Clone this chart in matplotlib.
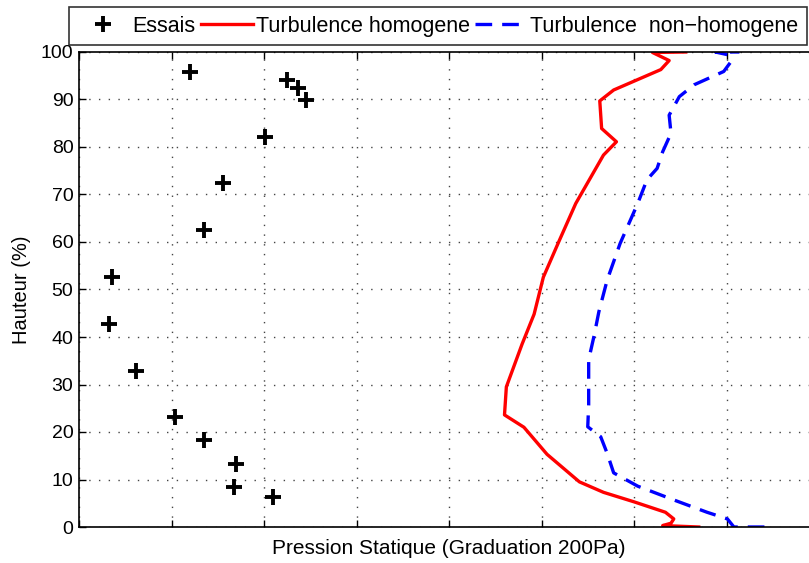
import matplotlib
matplotlib.use("Agg")
import matplotlib.pyplot as plt

plt.rcParams['font.family'] = ['Liberation Sans', 'DejaVu Sans']

# essais: pression (graduations) / hauteur (%)
essais_p = [1.20, 2.25, 2.37, 2.45, 2.01, 1.56, 1.35, 0.36, 0.325, 0.62,
            1.035, 1.35, 1.70, 1.68, 2.10]
essais_h = [95.8, 94.1, 92.5, 89.8, 82.2, 72.4, 62.5, 52.6, 42.7, 32.8,
            23.1, 18.3, 13.3, 8.4, 6.3]

# turbulence homogene
homo_p = [6.70, 6.31, 6.40, 6.43, 6.34, 6.00, 5.67, 5.41, 5.06, 4.81, 4.60,
          4.62, 4.79, 4.92, 5.02, 5.19, 5.37, 5.67, 5.81, 5.65, 5.63, 5.78,
          6.29, 6.38, 6.20, 6.56]
homo_h = [0, 0.3, 0.8, 1.7, 3.1, 5.3, 7.3, 9.5, 15.3, 21.0, 23.6,
          29.5, 38.5, 44.8, 52.6, 60.2, 68.1, 78.3, 81.1, 83.9, 89.7, 92.0,
          96.3, 98.2, 99.9, 100]

# turbulence non-homogene
nonhomo_p = [7.41, 7.08, 7.01, 6.79, 6.43, 6.04, 5.78, 5.71, 5.64, 5.50,
             5.51, 5.51, 5.57, 5.62, 5.71, 5.85, 6.04, 6.14, 6.25, 6.31,
             6.40, 6.38, 6.49, 6.65, 6.97, 7.05, 7.02, 6.88, 7.14]
nonhomo_h = [0, 0, 1.7, 3.1, 5.7, 8.6, 11.4, 15.5, 19.0, 21.1,
             25.7, 35.2, 40.4, 45.3, 52.0, 59.7, 68.1, 73.1, 75.5, 79.0,
             82.9, 86.7, 90.6, 93.1, 95.9, 98.0, 99.4, 100, 100]

W, H = 809, 563
fig = plt.figure(figsize=(W / 100, H / 100), dpi=100)
ax = fig.add_axes([79 / W, 36 / H, 740 / W, 475 / H])

ax.plot(essais_p, essais_h, linestyle='none', marker='+', color='black',
        markersize=11, markeredgewidth=2.8, label='Essais')
ax.plot(homo_p, homo_h, color='red', linewidth=2.4, label='Turbulence homogene')
ax.plot(nonhomo_p, nonhomo_h, color='blue', linewidth=2.4, dashes=(5, 3),
        label='Turbulence  non\u2212homogene')

ax.set_xlim(0, 8)
ax.set_ylim(0, 100)
ax.set_xticks(range(0, 9))
ax.set_yticks(range(0, 101, 10))
ax.set_xticklabels([])
ax.tick_params(direction='in', length=5, width=1, labelsize=14,
               top=True, right=True, pad=4)
# sparse dotted grid
ax.grid(True, linestyle=(0, (1, 6)), color='#444444', linewidth=1.0)
for s in ax.spines.values():
    s.set_linewidth(1.2)

ax.set_xlabel('Pression Statique (Graduation 200Pa)', fontsize=15, labelpad=5)
ax.set_ylabel('Hauteur (%)', fontsize=14.5, labelpad=7)

handles, labels = ax.get_legend_handles_labels()
leg = fig.legend(handles, labels, loc='upper left', ncol=3,
                 bbox_to_anchor=(69 / W, 1 - 7 / H),
                 fontsize=15.5, frameon=True, fancybox=False,
                 handlelength=2.4, handletextpad=0.15, columnspacing=0.25,
                 borderaxespad=0, borderpad=0.4)
leg.get_frame().set_edgecolor('black')
leg.get_frame().set_linewidth(1.2)

fig.savefig('out.png', dpi=100)
